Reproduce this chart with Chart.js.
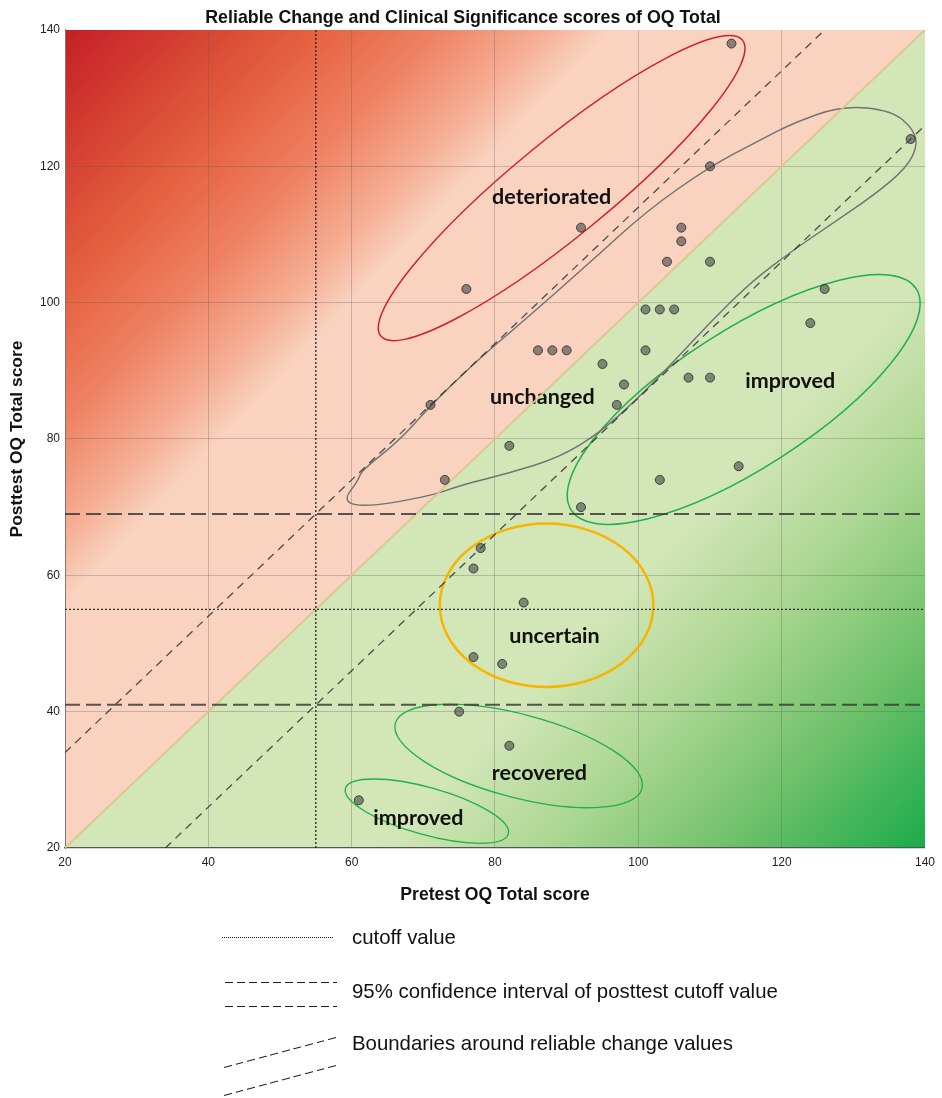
<!DOCTYPE html>
<html>
<head>
<meta charset="utf-8">
<title>Reliable Change and Clinical Significance scores of OQ Total</title>
<script src="https://cdn.jsdelivr.net/npm/chart.js@4.4.1/dist/chart.umd.min.js"></script>
<style>
  html, body { margin: 0; padding: 0; background: #fff; }
  #wrap { position: relative; width: 942px; height: 1098px; overflow: hidden; }
  #chart { position: absolute; left: 0; top: 0; }
  .key { position: absolute; left: 352px; font-family: "Liberation Sans", Arial, sans-serif; font-size: 20.4px; line-height: 22px; color: #111; white-space: nowrap; }
  .stroke { position: absolute; height: 1px; transform-origin: 0 50%; }
  .dots { background: repeating-linear-gradient(90deg, #111 0 1px, transparent 1px 2px); }
  .dash { background: repeating-linear-gradient(90deg, #222 0 8px, transparent 8px 12px); }
</style>
</head>
<body>
<div id="wrap">
  <canvas id="chart" width="942" height="1098"></canvas>

  <div class="stroke dots" style="left:222px; top:937px; width:112px;"></div>
  <div class="key" style="top:926px;">cutoff value</div>

  <div class="stroke dash" style="left:225px; top:982px; width:112px;"></div>
  <div class="stroke dash" style="left:225px; top:1006px; width:112px;"></div>
  <div class="key" style="top:980px;">95% confidence interval of posttest cutoff value</div>

  <div class="stroke dash" style="left:224px; top:1067px; width:116px; transform: rotate(-15deg);"></div>
  <div class="stroke dash" style="left:224px; top:1095px; width:116px; transform: rotate(-15deg);"></div>
  <div class="key" style="top:1032px;">Boundaries around reliable change values</div>
</div>

<script>
// pretest / posttest OQ totals, one pair per client
const pretest  = [61, 75, 82, 77, 81, 84, 77, 78, 73, 82, 71, 76, 92, 86, 88, 90, 92, 95, 97, 98,
                  101, 101, 103, 105, 103, 104, 106, 106, 107, 110, 110, 110, 113, 114, 124, 126, 138];
const posttest = [27, 40, 35, 48, 47, 56, 61, 64, 74, 79, 85, 102, 111, 93, 93, 93, 70, 91, 85, 88,
                  93, 99, 99, 99, 74, 106, 111, 109, 89, 89, 106, 120, 138, 76, 97, 102, 124];

const axisMin = 20;
const axisMax = 140;
const axisTicks = [20, 40, 60, 80, 100, 120, 140];

const cutoff = 55;            // clinical cutoff (pre and post)
const ciPosttest = [41, 69];  // 95% CI of the posttest cutoff
const reliableChange = 14;    // RCI band half width

// hand drawn groupings (centre in data units, semi axes in x units, rotation in degrees)
const groupEllipses = [
  { cx: 89.3, cy: 116.8, a: 32.6, b: 6.7, rot: -39.3, color: '#d2202a', width: 1.5 },
  { cx: 114.7, cy: 85.8, a: 28.6, b: 9.6, rot: -32.7, color: '#1fb04b', width: 1.5 },
  { cx: 87.2, cy: 55.6, a: 14.9, b: 11.4, rot: 0, color: '#f7b500', width: 2.5 },
  { cx: 83.3, cy: 33.5, a: 17.8, b: 5.8, rot: 14.8, color: '#1fb04b', width: 1.3 },
  { cx: 70.5, cy: 25.4, a: 11.8, b: 3.3, rot: 15.6, color: '#1fb04b', width: 1.3 }
];
const unchangedOutline = [
  [58.7, 70.8], [60.9, 73.9], [61.4, 75.4], [66.7, 79.8], [71.0, 84.9], [77.8, 91.8], [83.4, 96.8],
  [93.6, 106.2], [101.1, 113.4], [110.0, 120.0], [116.9, 123.8], [121.5, 126.3], [128.4, 128.9],
  [135.4, 128.2], [138.5, 125.3], [138.9, 122.8], [137.4, 119.8], [133.2, 116.0], [126.2, 111.0],
  [121.5, 107.6], [115.9, 103.2], [110.3, 97.4], [104.7, 91.1], [100.1, 86.1], [94.6, 80.9],
  [89.0, 77.3], [82.0, 75.0], [75.1, 73.2], [71.3, 71.7], [62.1, 70.0]
];
const groupLabels = [
  { text: 'deteriorated', x: 87.9, y: 115.5 },
  { text: 'unchanged', x: 86.6, y: 86.1 },
  { text: 'improved', x: 121.2, y: 88.5 },
  { text: 'uncertain', x: 88.3, y: 51.1 },
  { text: 'recovered', x: 86.2, y: 31.0 },
  { text: 'improved', x: 69.3, y: 24.4 }
];

const refLine = (pts, color, width, dash, order) => ({
  type: 'scatter',
  data: pts,
  showLine: true,
  pointRadius: 0,
  borderColor: color,
  borderWidth: width,
  borderDash: dash,
  order: order
});

// shaded zones: deterioration above y = x, improvement below
const zonesPlugin = {
  id: 'zones',
  beforeDraw(chart) {
    const { ctx, chartArea, scales: { x, y } } = chart;
    const px = v => x.getPixelForValue(v);
    const py = v => y.getPixelForValue(v);
    ctx.save();
    ctx.beginPath();
    ctx.rect(chartArea.left, chartArea.top, chartArea.width, chartArea.height);
    ctx.clip();

    let g = ctx.createLinearGradient(px(axisMin), py(axisMax), px(axisMin + 40), py(axisMax - 40));
    g.addColorStop(0, '#c41f25');
    g.addColorStop(0.45, '#e4603f');
    g.addColorStop(0.68, '#ef8163');
    g.addColorStop(0.87, '#f5ad92');
    g.addColorStop(1, '#f9d3c0');
    ctx.fillStyle = g;
    ctx.beginPath();
    ctx.moveTo(px(axisMin), py(axisMin));
    ctx.lineTo(px(axisMin), py(axisMax));
    ctx.lineTo(px(axisMax), py(axisMax));
    ctx.closePath();
    ctx.fill();

    g = ctx.createLinearGradient(px(axisMax), py(axisMin), px(axisMax - 40), py(axisMin + 40));
    g.addColorStop(0, '#1aab4a');
    g.addColorStop(0.35, '#6cc068');
    g.addColorStop(0.7, '#acd792');
    g.addColorStop(1, '#d3e6b8');
    ctx.fillStyle = g;
    ctx.beginPath();
    ctx.moveTo(px(axisMin), py(axisMin));
    ctx.lineTo(px(axisMax), py(axisMin));
    ctx.lineTo(px(axisMax), py(axisMax));
    ctx.closePath();
    ctx.fill();
    ctx.restore();
  }
};

const groupsPlugin = {
  id: 'groups',
  beforeDatasetsDraw(chart) {
    const { ctx, scales: { x, y } } = chart;
    const unit = Math.abs(x.getPixelForValue(1) - x.getPixelForValue(0));
    ctx.save();
    groupEllipses.forEach(e => {
      ctx.beginPath();
      ctx.ellipse(x.getPixelForValue(e.cx), y.getPixelForValue(e.cy), e.a * unit, e.b * unit,
        e.rot * Math.PI / 180, 0, Math.PI * 2);
      ctx.strokeStyle = e.color;
      ctx.lineWidth = e.width;
      ctx.stroke();
    });

    // smooth closed outline through midpoints
    const pts = unchangedOutline.map(p => [x.getPixelForValue(p[0]), y.getPixelForValue(p[1])]);
    const n = pts.length;
    const mid = (a, b) => [(a[0] + b[0]) / 2, (a[1] + b[1]) / 2];
    ctx.beginPath();
    let m = mid(pts[n - 1], pts[0]);
    ctx.moveTo(m[0], m[1]);
    for (let i = 0; i < n; i++) {
      m = mid(pts[i], pts[(i + 1) % n]);
      ctx.quadraticCurveTo(pts[i][0], pts[i][1], m[0], m[1]);
    }
    ctx.closePath();
    ctx.strokeStyle = '#727272';
    ctx.lineWidth = 1.4;
    ctx.stroke();

    ctx.fillStyle = '#111';
    ctx.font = 'bold 21.5px Lato, "Open Sans", sans-serif';
    ctx.textAlign = 'center';
    ctx.textBaseline = 'middle';
    groupLabels.forEach(l => {
      ctx.fillText(l.text, x.getPixelForValue(l.x), y.getPixelForValue(l.y));
    });
    ctx.restore();
  }
};

const gridColor = c => (c.tick && (c.tick.value === axisMin || c.tick.value === axisMax))
  ? 'rgba(0,0,0,0)' : 'rgba(90,90,90,0.3)';

new Chart(document.getElementById('chart'), {
  type: 'scatter',
  data: {
    datasets: [
      {
        label: 'Clients',
        data: pretest.map((v, i) => ({ x: v, y: posttest[i] })),
        pointRadius: 4.5,
        pointBackgroundColor: 'rgba(55,55,55,0.55)',
        pointBorderColor: 'rgba(40,40,40,0.8)',
        pointBorderWidth: 1,
        order: 0
      },
      refLine([{ x: axisMin, y: axisMin }, { x: axisMax, y: axisMax }], 'rgba(215,200,140,0.9)', 2, [], 5),
      refLine([{ x: cutoff, y: axisMin }, { x: cutoff, y: axisMax }], '#222', 1.3, [2, 2], 2),
      refLine([{ x: axisMin, y: cutoff }, { x: axisMax, y: cutoff }], '#333', 1.3, [2, 2], 2),
      refLine([{ x: axisMin, y: ciPosttest[0] }, { x: axisMax, y: ciPosttest[0] }], 'rgba(60,60,60,0.85)', 2, [15, 6], 3),
      refLine([{ x: axisMin, y: ciPosttest[1] }, { x: axisMax, y: ciPosttest[1] }], 'rgba(60,60,60,0.85)', 2, [15, 6], 3),
      refLine([{ x: axisMin, y: axisMin + reliableChange }, { x: axisMax - reliableChange, y: axisMax }], 'rgba(50,50,50,0.85)', 1.3, [8, 6], 4),
      refLine([{ x: axisMin + reliableChange, y: axisMin }, { x: axisMax, y: axisMax - reliableChange }], 'rgba(50,50,50,0.85)', 1.3, [8, 6], 4)
    ]
  },
  options: {
    responsive: false,
    animation: false,
    layout: { padding: { left: 0, top: 0, right: 16, bottom: 190 } },
    plugins: {
      legend: { display: false },
      tooltip: { enabled: false },
      title: {
        display: true,
        text: 'Reliable Change and Clinical Significance scores of OQ Total',
        color: '#111',
        font: { family: '"Liberation Sans", Arial, sans-serif', size: 17.8, weight: 'bold' },
        padding: { top: 7, bottom: 1.6 }
      }
    },
    scales: {
      x: {
        type: 'linear',
        min: axisMin,
        max: axisMax,
        afterBuildTicks: s => { s.ticks = axisTicks.map(v => ({ value: v })); },
        afterFit: s => { s.height = 60; },
        grid: { color: gridColor, drawTicks: false },
        border: { display: true, color: '#555', width: 1.2 },
        ticks: { padding: 7, color: '#222', font: { family: '"Liberation Sans", Arial, sans-serif', size: 12 } },
        title: {
          display: true,
          text: 'Pretest OQ Total score',
          color: '#111',
          font: { family: '"Liberation Sans", Arial, sans-serif', size: 17.6, weight: 'bold' },
          padding: { top: 0, bottom: 2 }
        }
      },
      y: {
        type: 'linear',
        min: axisMin,
        max: axisMax,
        afterBuildTicks: s => { s.ticks = axisTicks.map(v => ({ value: v })); },
        afterFit: s => { s.width = 65; },
        grid: { color: gridColor, drawTicks: false },
        border: { display: true, color: '#777', width: 1 },
        ticks: { padding: 5, color: '#222', font: { family: '"Liberation Sans", Arial, sans-serif', size: 12 } },
        title: {
          display: true,
          text: 'Posttest OQ Total score',
          color: '#111',
          font: { family: '"Liberation Sans", Arial, sans-serif', size: 17.4, weight: 'bold' },
          padding: { top: 7, bottom: 0 }
        }
      }
    }
  },
  plugins: [zonesPlugin, groupsPlugin]
});
</script>
</body>
</html>
